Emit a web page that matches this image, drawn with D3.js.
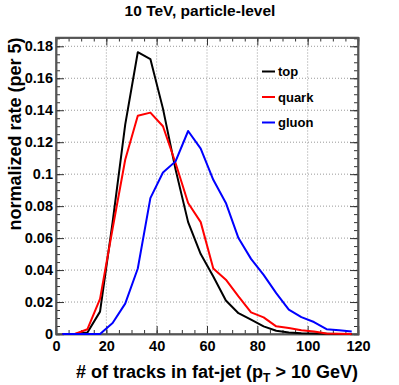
<!DOCTYPE html>
<html>
<head>
<meta charset="utf-8">
<script src="https://cdn.jsdelivr.net/npm/d3@7"></script>
<style>
  body { margin: 0; background: #fff; }
  text { font-family: "Liberation Sans", Arial, Helvetica, sans-serif; font-weight: bold; }
  .grid line { stroke: #999; stroke-dasharray: 1,2; }
  .os path { stroke: #555; stroke-width: 1.5; }
  .os line { stroke: #333; }
</style>
</head>
<body>
<div id="okvir"></div>
<script>
// podaci: sredine binova (sirina 5)
const binovi = [2.5, 7.5, 12.5, 17.5, 22.5, 27.5, 32.5, 37.5, 42.5, 47.5, 52.5, 57.5,
  62.5, 67.5, 72.5, 77.5, 82.5, 87.5, 92.5, 97.5, 102.5, 107.5, 112.5, 117.5]

const top_ = [0, 0, 0.001, 0.014, 0.070, 0.131, 0.1763, 0.172, 0.141, 0.103, 0.070, 0.050,
  0.036, 0.021, 0.013, 0.009, 0.0048, 0.002, 0.001, 0.0005, 0.0003, 0.0001, 0, 0]
const quark = [0, 0, 0.003, 0.022, 0.066, 0.109, 0.1365, 0.1385, 0.130, 0.107, 0.082, 0.070,
  0.041, 0.034, 0.0235, 0.0135, 0.0104, 0.0048, 0.0037, 0.0023, 0.0016, 0.0003, 0.0001, 0]
const gluon = [0, 0, 0, 0, 0.0069, 0.019, 0.041, 0.085, 0.101, 0.108, 0.127, 0.116,
  0.0965, 0.082, 0.060, 0.047, 0.037, 0.0256, 0.0152, 0.0106, 0.0075, 0.003, 0.0023, 0.0015]

const serije = [
  { ime: "top", boja: "#000000", vrijednosti: top_ },
  { ime: "quark", boja: "#ff0000", vrijednosti: quark },
  { ime: "gluon", boja: "#0000ff", vrijednosti: gluon },
]

const xTickovi = [0, 20, 40, 60, 80, 100, 120]
const yTickovi = [0, 0.02, 0.04, 0.06, 0.08, 0.1, 0.12, 0.14, 0.16, 0.18]

// dimenzije
const dim = {
  sirina: 399, visina: 385,
  lijevo: 56, desno: 358, gore: 37.5, dolje: 334
}

const svg = d3.select("#okvir").append("svg")
    .attr("width", dim.sirina)
    .attr("height", dim.visina)

const xSkala = d3.scaleLinear().domain([0, 120]).range([dim.lijevo, dim.desno])
const ySkala = d3.scaleLinear().domain([0, 0.1855]).range([dim.dolje, dim.gore])

// mreza
svg.append("g").attr("class", "grid")
  .selectAll("line").data(xTickovi.slice(1, -1)).enter().append("line")
    .attr("x1", d => xSkala(d)).attr("x2", d => xSkala(d))
    .attr("y1", dim.gore).attr("y2", dim.dolje)
svg.append("g").attr("class", "grid")
  .selectAll("line").data(yTickovi.slice(1)).enter().append("line")
    .attr("x1", dim.lijevo).attr("x2", dim.desno)
    .attr("y1", d => ySkala(d)).attr("y2", d => ySkala(d))

// osi (ROOT stil: kvacice prema unutra)
const xMinor = d3.range(0, 121, 5)
const yMinor = d3.range(0, 0.186, 0.005)

function osi(g, generator) { g.attr("class", "os").call(generator) }

svg.append("g").attr("transform", `translate(0,${dim.dolje})`)
  .call(g => osi(g, d3.axisBottom(xSkala).tickValues(xMinor).tickSize(-4).tickFormat("")))
svg.append("g").attr("transform", `translate(0,${dim.dolje})`)
  .call(g => osi(g, d3.axisBottom(xSkala).tickValues(xTickovi).tickSize(-8).tickPadding(7).tickFormat(d3.format("d"))))
svg.append("g").attr("transform", `translate(0,${dim.gore})`)
  .call(g => osi(g, d3.axisTop(xSkala).tickValues(xMinor).tickSize(-4).tickFormat("")))
svg.append("g").attr("transform", `translate(0,${dim.gore})`)
  .call(g => osi(g, d3.axisTop(xSkala).tickValues(xTickovi).tickSize(-8).tickFormat("")))

svg.append("g").attr("transform", `translate(${dim.lijevo},0)`)
  .call(g => osi(g, d3.axisLeft(ySkala).tickValues(yMinor).tickSize(-4).tickFormat("")))
svg.append("g").attr("transform", `translate(${dim.lijevo},0)`)
  .call(g => osi(g, d3.axisLeft(ySkala).tickValues(yTickovi).tickSize(-8).tickPadding(3).tickFormat(d => d === 0 ? "0" : d3.format("~g")(d))))
svg.append("g").attr("transform", `translate(${dim.desno},0)`)
  .call(g => osi(g, d3.axisRight(ySkala).tickValues(yMinor).tickSize(-4).tickFormat("")))
svg.append("g").attr("transform", `translate(${dim.desno},0)`)
  .call(g => osi(g, d3.axisRight(ySkala).tickValues(yTickovi).tickSize(-8).tickFormat("")))

svg.selectAll(".os text")
    .attr("font-size", 14.5)
    .attr("fill", "#000")

svg.selectAll(".os").attr("font-family", null)

// okvir
svg.append("rect")
    .attr("x", dim.lijevo).attr("y", dim.gore)
    .attr("width", dim.desno - dim.lijevo).attr("height", dim.dolje - dim.gore)
    .attr("fill", "none").attr("stroke", "#555").attr("stroke-width", 1.5)

// krivulje (iznad okvira, kao u ROOT-u)
const linija = d3.line()
  .x((d, i) => xSkala(binovi[i]))
  .y(d => ySkala(d))

svg.append("g").selectAll("path").data(serije).enter().append("path")
    .attr("d", d => linija(d.vrijednosti))
    .attr("fill", "none")
    .attr("stroke", d => d.boja)
    .attr("stroke-width", 2)
    .attr("stroke-linejoin", "round")

// naslov
svg.append("text")
    .attr("x", 200).attr("y", 16)
    .attr("text-anchor", "middle")
    .attr("font-size", 15.5)
    .text("10 TeV, particle-level")

// naslovi osi
const xNaslov = svg.append("text")
    .attr("x", dim.desno).attr("y", 378)
    .attr("text-anchor", "end")
    .attr("font-size", 18)
xNaslov.append("tspan").text("# of tracks in fat-jet (p")
xNaslov.append("tspan").attr("font-size", 12).attr("dy", 4).text("T")
xNaslov.append("tspan").attr("dy", -4).text(" > 10 GeV)")

svg.append("text")
    .attr("transform", `translate(21,${dim.gore}) rotate(-90)`)
    .attr("text-anchor", "end")
    .attr("font-size", 18)
    .text("normalized rate (per 5)")

// legenda
const legenda = svg.append("g").selectAll("g").data(serije).enter().append("g")
    .attr("transform", (d, i) => `translate(262,${71.5 + i * 25.5})`)
legenda.append("line")
    .attr("x1", 0).attr("x2", 13)
    .attr("stroke", d => d.boja).attr("stroke-width", 2)
legenda.append("text")
    .attr("x", 16).attr("dy", "0.35em")
    .attr("font-size", 13)
    .text(d => d.ime)
</script>
</body>
</html>
